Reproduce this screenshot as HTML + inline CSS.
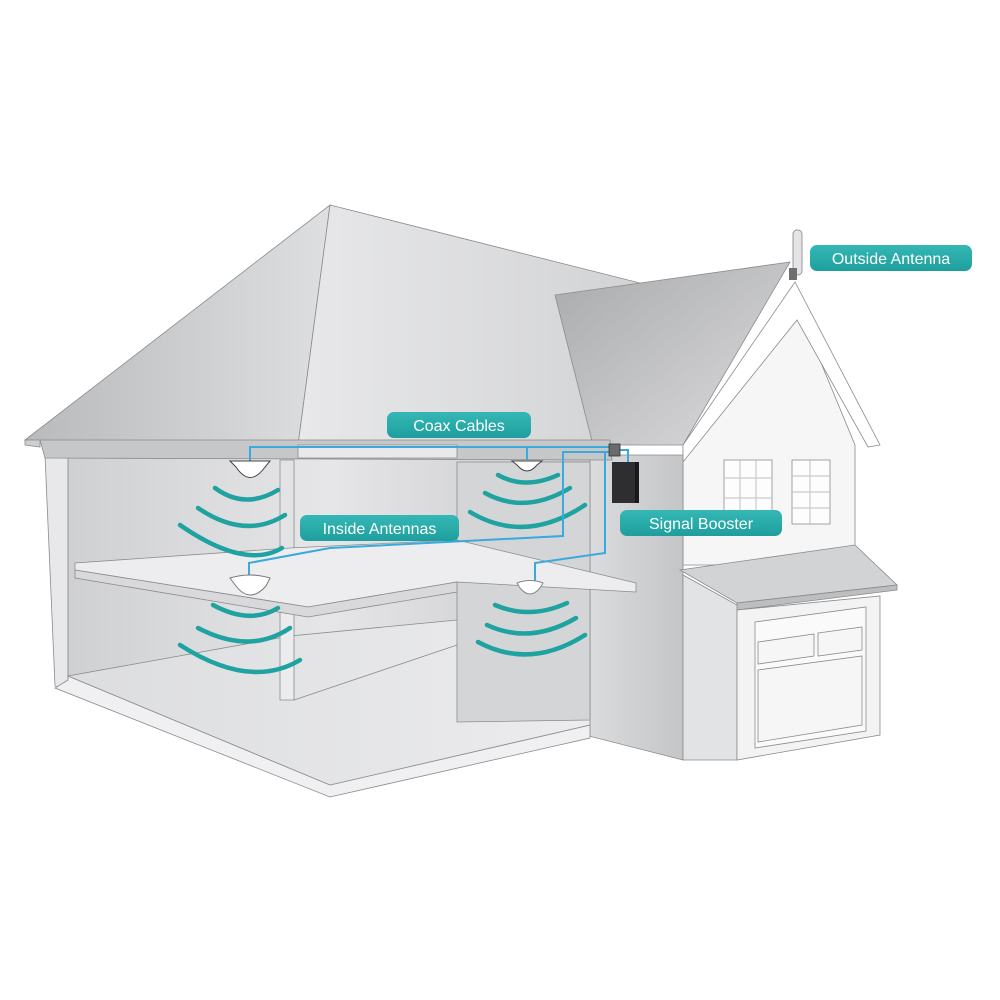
<!DOCTYPE html>
<html><head><style>
html,body{margin:0;padding:0;background:#fff}
svg{display:block}
.lbl{font-family:"Liberation Sans",sans-serif;font-size:16px;fill:#fff}
</style></head><body>
<svg width="1000" height="1000" viewBox="0 0 1000 1000" xmlns="http://www.w3.org/2000/svg">
<defs>
<linearGradient id="roofL" x1="0" y1="0" x2="1" y2="0"><stop offset="0" stop-color="#b9babc"/><stop offset="1" stop-color="#dedfe0"/></linearGradient>
<linearGradient id="roofF" x1="0" y1="0" x2="1" y2="0"><stop offset="0" stop-color="#e8e8ea"/><stop offset="1" stop-color="#d2d3d5"/></linearGradient>
<linearGradient id="roofG" x1="0" y1="0" x2="1" y2="1"><stop offset="0" stop-color="#a9aaac"/><stop offset="1" stop-color="#dcdcde"/></linearGradient>
<linearGradient id="inner" x1="0" y1="0" x2="1" y2="0"><stop offset="0" stop-color="#cfd0d2"/><stop offset="0.5" stop-color="#e6e6e8"/><stop offset="1" stop-color="#c8c9cb"/></linearGradient>
<linearGradient id="wall" x1="0" y1="0" x2="1" y2="0"><stop offset="0" stop-color="#dcdddf"/><stop offset="1" stop-color="#c4c5c7"/></linearGradient>
<linearGradient id="floor" x1="0" y1="0" x2="1" y2="0"><stop offset="0" stop-color="#dcdddf"/><stop offset="1" stop-color="#ececee"/></linearGradient>
<linearGradient id="teal" x1="0" y1="0" x2="0" y2="1"><stop offset="0" stop-color="#35b8b5"/><stop offset="1" stop-color="#1e9f9d"/></linearGradient>
</defs>
<g stroke="#8a8b8d" stroke-width="0.8">
<polygon points="25,440 330,205 298,445" fill="url(#roofL)"/>
<polygon points="330,205 640,283 610,445 298,445" fill="url(#roofF)"/>
<polygon points="555,295 790,262 683,445 593,445" fill="url(#roofG)"/>
<polygon points="683,450 795,300 855,445 855,565 683,565" fill="#f6f6f7"/>
<polygon points="683,445 795,282 880,445 868,447 797,320 683,462" fill="#fff"/>
<polygon points="585,455 683,455 683,760 585,735" fill="url(#wall)"/>
<polygon points="68,458 590,458 590,735 330,790 68,680" fill="url(#inner)"/>
<polygon points="45,455 68,458 68,690 55,686 45,455" fill="#e8e8ea"/>
<polygon points="68,676 330,785 590,725 590,738 330,797 55,688 68,680" fill="#f0f0f2"/>
<polygon points="68,676 290,636 457,620 590,600 590,725 330,785" fill="url(#floor)"/>
<polygon points="457,462 590,462 590,720 457,722" fill="#d4d5d7"/>
<polygon points="280,460 294,460 294,565 280,565" fill="#e3e3e5"/>
<polygon points="280,600 294,600 294,700 280,700" fill="#ececee"/>
<line x1="294" y1="700" x2="457" y2="645" />
<polygon points="75,563 290,548 457,540 636,583 636,592 457,582 308,607 75,570" fill="#ededef"/>
<polygon points="75,570 308,607 457,582 457,592 308,617 75,578" fill="#d9d9db"/>
<polygon points="40,440 610,440 612,460 45,458" fill="#c6c7c9"/>
<polygon points="298,445 457,445 457,458 298,458" fill="#e9e9eb"/>
<polygon points="25,440 40,440 40,447 25,445" fill="#cfcfd1"/>
<polygon points="680,570 855,545 897,585 737,603" fill="#d2d3d5"/>
<polygon points="737,603 897,585 897,590 737,610" fill="#bdbec0"/>
<polygon points="683,575 737,605 737,760 683,760" fill="#e2e3e5"/>
<polygon points="737,610 880,596 880,735 737,760" fill="#f3f3f4"/>
<polygon points="755,622 866,607 866,731 755,748" fill="#fafafa"/>
<polygon points="758,642 814,634 814,656 758,664" fill="#f6f6f7"/>
<polygon points="818,633 862,627 862,650 818,656" fill="#f6f6f7"/>
<polygon points="758,670 862,656 862,725 758,742" fill="#f6f6f7"/>
<rect x="724" y="460" width="48" height="58" fill="#fdfdfd"/>
<rect x="792" y="460" width="38" height="64" fill="#fdfdfd"/>
</g>
<g stroke="#c9cacc" stroke-width="1.2">
<line x1="740" y1="460" x2="740" y2="518"/><line x1="756" y1="460" x2="756" y2="518"/>
<line x1="724" y1="478" x2="772" y2="478"/><line x1="724" y1="498" x2="772" y2="498"/>
<line x1="810" y1="460" x2="810" y2="524"/>
<line x1="792" y1="476" x2="830" y2="476"/><line x1="792" y1="492" x2="830" y2="492"/><line x1="792" y1="508" x2="830" y2="508"/>
</g>
<rect x="793" y="230" width="9" height="45" rx="4" fill="#e4e4e6" stroke="#999"/>
<rect x="789" y="268" width="8" height="12" fill="#6e6f71"/>
<g fill="none" stroke="#1fa3a1" stroke-width="4.5" stroke-linecap="round">
<path d="M215,488 Q245,510 278,490"/>
<path d="M198,508 Q245,540 285,515"/>
<path d="M180,525 Q245,570 282,548"/>
<path d="M498,475 Q525,490 558,475"/>
<path d="M485,493 Q525,515 570,488"/>
<path d="M470,512 Q525,545 585,505"/>
<path d="M213,605 Q250,625 278,608"/>
<path d="M198,628 Q250,655 290,628"/>
<path d="M180,645 Q250,690 300,660"/>
<path d="M495,605 Q530,620 567,603"/>
<path d="M487,625 Q530,645 576,618"/>
<path d="M478,642 Q530,670 585,635"/>
</g>
<g fill="none" stroke="#3aa9dc" stroke-width="2">
<polyline points="250,462 250,447 613,447"/>
<line x1="527" y1="447" x2="527" y2="460"/>
<polyline points="613,452 563,452 563,536 330,548 249,563 249,578"/>
<polyline points="609,452 605,452 605,553 535,563 535,585"/>
<polyline points="620,450 628,450 628,463"/>
</g>
<rect x="609" y="444" width="11" height="12" fill="#6a6b6d" stroke="#333" stroke-width="0.8"/>
<rect x="612" y="462" width="27" height="41" fill="#2e2e30"/>
<rect x="635" y="462" width="4" height="41" fill="#1a1a1a"/>
<g fill="#fff" stroke="#444" stroke-width="1">
<path d="M230,461 L270,461 L265,467 Q250,488 236,467 Z"/>
<path d="M512,461 L542,461 L537,465 Q527,477 517,465 Z"/>
<path d="M230,578 Q250,572 270,578 L266,586 Q250,604 236,586 Z" stroke="#777"/>
<path d="M517,583 Q530,578 543,583 L540,588 Q530,600 520,588 Z" stroke="#888"/>
</g>
<rect x="387" y="412" width="144" height="26" rx="7" fill="url(#teal)"/>
<text class="lbl" x="459" y="431" text-anchor="middle">Coax Cables</text>
<rect x="300" y="515" width="159" height="26" rx="7" fill="url(#teal)"/>
<text class="lbl" x="379.5" y="534" text-anchor="middle">Inside Antennas</text>
<rect x="620" y="510" width="162" height="26" rx="7" fill="url(#teal)"/>
<text class="lbl" x="701" y="529" text-anchor="middle">Signal Booster</text>
<rect x="810" y="245" width="162" height="26" rx="7" fill="url(#teal)"/>
<text class="lbl" x="891" y="264" text-anchor="middle">Outside Antenna</text>
</svg>
</body></html>
